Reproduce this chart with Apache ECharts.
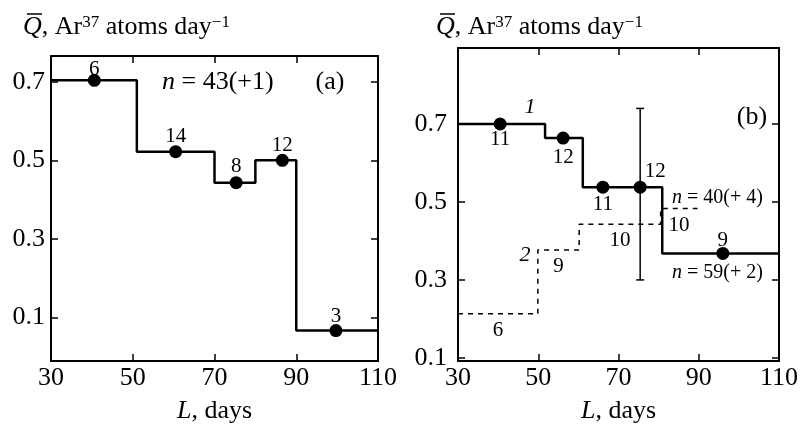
<!DOCTYPE html>
<html>
<head>
<meta charset="utf-8">
<script src="https://cdn.jsdelivr.net/npm/echarts@6/dist/echarts.min.js"></script>
<style>
html,body{margin:0;padding:0;background:#fff;}
#c{width:804px;height:431px;}
</style>
</head>
<body>
<div id="c"></div>
<script>
// ---------- data ----------
const xTickValues = [30, 50, 70, 90, 110];
const yTickValues = [0.1, 0.3, 0.5, 0.7];

// Panel (a): step histogram, bins by L (days)
const edgesA = [30, 51, 70, 80, 90, 110];
const valuesA = [0.704, 0.522, 0.443, 0.500, 0.066];
const pointLA = [40.6, 60.5, 75.3, 86.6, 99.7];
const countsA = [6, 14, 8, 12, 3];

// Panel (b): curve 1 (solid)
const edgesB1 = [30, 51.7, 61.1, 80.9, 110];
const valuesB1 = [0.700, 0.664, 0.538, 0.368];
const pointLB1 = [40.5, 56.2, 66.1, 75.4, 96.0];
const pointQB1 = [0.700, 0.664, 0.538, 0.538, 0.368];
const countsB1 = [11, 12, 11, 12, 9];
// error bar on curve 1
const errL = [75.4];
const errLow = [0.30];
const errHigh = [0.74];

// Panel (b): curve 2 (dashed)
const edgesB2 = [30, 49.9, 60.2, 80.5, 89.7];
const valuesB2 = [0.213, 0.377, 0.443, 0.483];
const countsB2 = [6, 9, 10, 10];

// ---------- helpers ----------
const FONT = "'Liberation Serif','Times New Roman',serif";
function stepData(edges, vals) {
  const d = [];
  for (let i = 0; i < vals.length; i++) d.push([edges[i], vals[i]]);
  d.push([edges[edges.length - 1], vals[vals.length - 1]]);
  return d;
}
const labelStyleA = [
  {position: 'top', distance: -6},
  {position: 'top', distance: -2},
  {position: 'top', distance: -1},
  {position: 'top', distance: -2},
  {position: 'top', distance: -3}
];
const labelStyleB1 = [
  {position: 'bottom', distance: -2},
  {position: 'bottom', distance: 2},
  {position: 'bottom', distance: 0},
  {position: 'top', distance: 5, offset: [15, 6]},
  {position: 'top', distance: -4}
];

function xAxes(gridIndex) {
  const base = {
    gridIndex, type: 'value', min: 30, max: 110, interval: 20,
    splitLine: {show: false},
    axisLine: {show: true, onZero: false, lineStyle: {color: '#000', width: 2}},
    axisTick: {show: true, inside: true, length: 7, lineStyle: {color: '#000', width: 1.5}}
  };
  return [
    Object.assign({}, base, {
      position: 'bottom',
      axisLabel: {show: true, color: '#000', fontFamily: FONT, fontSize: 26, margin: 4,
                  showMinLabel: true, showMaxLabel: true},
      name: '{i|L}{n|, days}', nameLocation: 'middle', nameGap: 37,
      nameTextStyle: {rich: {
        i: {fontFamily: FONT, fontSize: 26, fontStyle: 'italic', color: '#000'},
        n: {fontFamily: FONT, fontSize: 26, color: '#000'}
      }}
    }),
    Object.assign({}, base, {position: 'top', axisLabel: {show: false}})
  ];
}
function yAxes(gridIndex, min, max, margin) {
  const base = {
    gridIndex, type: 'value', min, max,
    splitLine: {show: false},
    axisLine: {show: true, onZero: false, lineStyle: {color: '#000', width: 2}},
    axisTick: {show: true, inside: true, length: 7, customValues: yTickValues,
               lineStyle: {color: '#000', width: 1.5}}
  };
  return [
    Object.assign({}, base, {
      position: 'left',
      axisLabel: {show: true, color: '#000', fontFamily: FONT, fontSize: 26, margin,
                  customValues: yTickValues, formatter: v => v.toFixed(1)}
    }),
    Object.assign({}, base, {position: 'right', axisLabel: {show: false}})
  ];
}

const chart = echarts.init(document.getElementById('c'), null, {renderer: 'canvas'});

const titleRich = {
  q: {fontFamily: FONT, fontSize: 26, fontStyle: 'italic', color: '#000'},
  n: {fontFamily: FONT, fontSize: 26, color: '#000'},
  s: {fontFamily: FONT, fontSize: 17, color: '#000', verticalAlign: 'top'}
};
const titleText = '{q|Q}{n|, Ar}{s|37}{n| atoms day}{s|\u22121}';

function txt(x, y, text, size, italic, align) {
  return {type: 'text', x, y, z: 100, style: {
    text, fill: '#000', font: (italic ? 'italic ' : '') + size + 'px ' + FONT,
    align: align || 'center', verticalAlign: 'middle'
  }};
}
function nRich(x, y, rest, size) {
  return {type: 'text', x, y, z: 100, style: {
    text: '{i|n}{r|' + rest + '}', verticalAlign: 'middle', align: 'left',
    rich: {
      i: {fontFamily: FONT, fontSize: size, fontStyle: 'italic', fill: '#000'},
      r: {fontFamily: FONT, fontSize: size, fill: '#000'}
    }
  }};
}
const dotStyle = {color: '#000', opacity: 1};
const dotEmph = {disabled: true};

const option = {
  backgroundColor: '#fff',
  animation: false,
  grid: [
    {left: 51, top: 56, width: 327, height: 305},
    {left: 458, top: 48, width: 321, height: 313}
  ],
  xAxis: [...xAxes(0), ...xAxes(1)],
  yAxis: [...yAxes(0, -0.0115, 0.766, 6), ...yAxes(1, 0.092, 0.895, 11)],
  series: [
    // panel a
    {type: 'line', xAxisIndex: 0, yAxisIndex: 0, step: 'end', symbol: 'none',
     data: stepData(edgesA, valuesA), lineStyle: {color: '#000', width: 2.5}, z: 3},
    {type: 'scatter', xAxisIndex: 0, yAxisIndex: 0, symbolSize: 13,
     itemStyle: dotStyle, emphasis: dotEmph, z: 5,
     data: pointLA.map((x, i) => ({value: [x, valuesA[i]],
       label: Object.assign({show: true, formatter: String(countsA[i]), color: '#000', opacity: 1,
                             fontFamily: FONT, fontSize: 21}, labelStyleA[i])}))},
    // panel b dashed curve 2
    {type: 'line', xAxisIndex: 2, yAxisIndex: 2, step: 'end', symbol: 'none',
     data: stepData(edgesB2, valuesB2).slice(0, edgesB2.length),
     lineStyle: {color: '#000', width: 1.5, type: [5, 5]}, z: 2},
    {type: 'scatter', xAxisIndex: 2, yAxisIndex: 2, symbolSize: 0, z: 4,
     itemStyle: dotStyle, emphasis: dotEmph,
     data: valuesB2.map((v, i) => ({value: [(edgesB2[i] + edgesB2[i + 1]) / 2, v],
       label: {show: true, position: 'bottom', distance: 6, formatter: String(countsB2[i]),
               color: '#000', opacity: 1, fontFamily: FONT, fontSize: 21}}))},
    // panel b solid curve 1
    {type: 'line', xAxisIndex: 2, yAxisIndex: 2, step: 'end', symbol: 'none',
     data: stepData(edgesB1, valuesB1), lineStyle: {color: '#000', width: 2.5}, z: 3},
    {type: 'custom', xAxisIndex: 2, yAxisIndex: 2, z: 4,
     data: errL.map((x, i) => [x, errLow[i], errHigh[i]]),
     encode: {x: 0, y: [1, 2]},
     renderItem: function (params, api) {
       const lo = api.coord([api.value(0), api.value(1)]);
       const hi = api.coord([api.value(0), api.value(2)]);
       const w = 4;
       const st = {stroke: '#000', lineWidth: 1.5};
       return {type: 'group', children: [
         {type: 'line', shape: {x1: lo[0], y1: lo[1], x2: hi[0], y2: hi[1]}, style: st},
         {type: 'line', shape: {x1: lo[0] - w, y1: lo[1], x2: lo[0] + w, y2: lo[1]}, style: st},
         {type: 'line', shape: {x1: hi[0] - w, y1: hi[1], x2: hi[0] + w, y2: hi[1]}, style: st}
       ]};
     }},
    {type: 'scatter', xAxisIndex: 2, yAxisIndex: 2, symbolSize: 13,
     itemStyle: dotStyle, emphasis: dotEmph, z: 5,
     data: pointLB1.map((x, i) => ({value: [x, pointQB1[i]],
       label: Object.assign({show: true, formatter: String(countsB1[i]), color: '#000', opacity: 1,
                             fontFamily: FONT, fontSize: 21}, labelStyleB1[i])}))}
  ],
  graphic: [
    // y-axis titles
    {type: 'text', x: 23, y: 14, z: 100, style: {text: titleText, rich: titleRich}},
    {type: 'line', z: 100, shape: {x1: 27, y1: 14, x2: 42, y2: 14}, style: {stroke: '#000', lineWidth: 1.5}},
    {type: 'text', x: 436, y: 14, z: 100, style: {text: titleText, rich: titleRich}},
    {type: 'line', z: 100, shape: {x1: 440, y1: 14, x2: 455, y2: 14}, style: {stroke: '#000', lineWidth: 1.5}},
    // annotations
    nRich(162, 82, ' = 43(+1)', 26),
    txt(330, 82, '(a)', 26, false),
    txt(752, 117, '(b)', 26, false),
    txt(530, 107, '1', 22, true),
    txt(525, 255, '2', 22, true),
    nRich(672, 198, ' = 40(+ 4)', 20),
    nRich(672, 273, ' = 59(+ 2)', 20)
  ]
};
chart.setOption(option);
</script>
</body>
</html>
